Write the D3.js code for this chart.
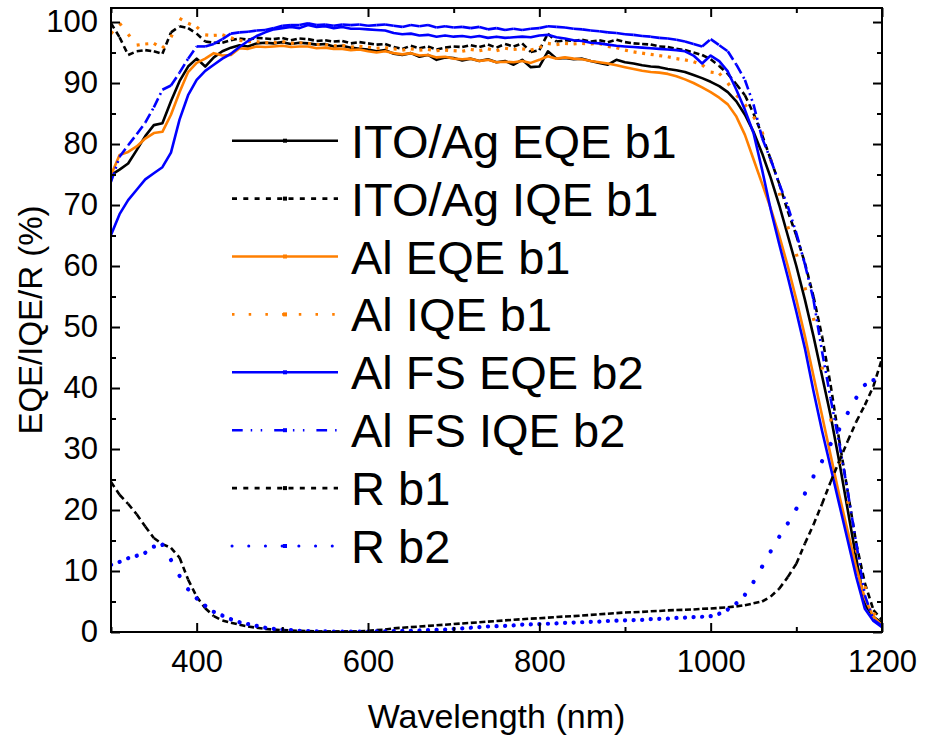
<!DOCTYPE html>
<html>
<head>
<meta charset="utf-8">
<script src="https://cdn.jsdelivr.net/npm/d3@7"></script>
<style>
  body { margin: 0; background: #fff; }
  svg { display: block; font-family: "Liberation Sans", Arial, sans-serif; }
</style>
</head>
<body>
<div id="chart"></div>
<script>
// wavelength grid, 300..1200 nm every 10 nm
const wavelength = d3.range(300, 1201, 10);

const itoEqeB1 = [74.9, 75.8, 76.8, 79.0, 81.3, 83.1, 83.4, 87.0, 90.3, 92.7,
  94.0, 92.7, 94.2, 95.2, 95.8, 96.2, 96.0, 96.5, 96.6, 96.5,
  96.7, 96.4, 96.6, 96.5, 96.3, 96.4, 96.0, 96.1, 95.8, 95.6,
  95.5, 95.2, 95.4, 94.8, 94.6, 94.9, 94.3, 94.6, 93.8, 94.2,
  94.1, 93.7, 94.0, 93.6, 93.9, 93.4, 93.6, 93.0, 93.8, 92.6,
  92.7, 95.2, 94.0, 94.1, 93.9, 94.0, 93.6, 93.3, 93.0, 93.8,
  93.4, 93.2, 92.9, 92.7, 92.6, 92.3, 92.1, 91.8, 91.3, 90.8,
  90.2, 89.5, 88.5, 87.0, 84.8, 82.0, 78.5, 74.5, 70.0, 65.0,
  60.0, 54.5, 48.5, 42.0, 35.5, 28.0, 20.0, 12.0, 4.5, 2.5, 1.5];

const itoIqeB1 = [99.8, 97.5, 94.6, 95.2, 95.4, 95.2, 94.8, 98.3, 99.3, 99.0,
  98.1, 96.8, 96.6, 96.6, 97.0, 97.3, 97.1, 97.4, 97.3, 97.2,
  97.4, 97.0, 97.3, 97.2, 96.9, 97.0, 96.8, 96.9, 96.5, 96.7,
  96.5, 96.3, 96.4, 95.9, 95.6, 96.1, 95.7, 96.0, 95.5, 95.8,
  96.0, 95.9, 96.2, 95.9, 96.3, 95.8, 96.4, 96.0, 96.5, 95.1,
  95.4, 98.1, 96.8, 97.0, 96.9, 97.1, 96.8, 97.0, 96.7, 97.1,
  96.7, 96.5, 96.4, 96.3, 96.0, 95.9, 95.6, 95.4, 95.0, 94.6,
  93.9, 92.8, 91.5, 89.8, 88.0, 85.0, 81.5, 77.5, 73.5, 69.0,
  65.0, 60.5, 55.0, 48.5, 40.5, 31.5, 23.0, 14.5, 8.0, 3.6, 2.0];

const alEqeB1 = [74.9, 78.2, 78.7, 79.6, 80.9, 81.8, 82.0, 84.8, 88.5, 91.8,
  93.3, 94.0, 94.9, 94.5, 94.6, 95.7, 95.6, 96.0, 95.9, 96.0,
  96.1, 95.9, 96.0, 96.0, 95.7, 95.8, 95.6, 95.6, 95.4, 95.5,
  95.2, 95.0, 95.2, 94.9, 94.7, 94.9, 94.5, 94.6, 94.2, 94.3,
  94.0, 93.9, 94.0, 93.6, 93.8, 93.4, 93.5, 93.4, 93.6, 93.3,
  93.8, 94.4, 94.0, 94.2, 94.0, 93.9, 93.6, 93.4, 93.2, 92.9,
  92.6, 92.3, 92.0, 91.8, 91.7, 91.5, 91.1, 90.6, 90.0, 89.3,
  88.5, 87.6, 86.5, 84.5, 81.5, 77.5, 73.5, 69.5, 65.0, 60.0,
  54.5, 48.5, 42.0, 35.5, 29.0, 22.5, 16.5, 10.5, 5.5, 2.5, 1.1];

const alIqeB1 = [98.1, 99.8, 98.0, 96.2, 96.4, 96.5, 95.7, 97.5, 100.6, 99.8,
  99.2, 97.9, 97.8, 97.9, 97.4, 97.0, 96.8, 96.8, 96.6, 96.6,
  96.8, 96.5, 96.6, 96.5, 96.3, 96.3, 96.1, 96.2, 95.9, 96.0,
  95.9, 95.7, 95.8, 95.6, 95.4, 95.6, 95.4, 95.5, 95.3, 95.4,
  95.3, 95.2, 95.5, 95.3, 95.6, 95.3, 95.7, 95.5, 95.6, 95.4,
  95.8, 96.5, 96.3, 96.5, 96.4, 96.5, 96.4, 96.5, 96.0, 95.8,
  95.4, 95.1, 94.9, 94.7, 94.5, 94.3, 94.0, 93.8, 93.5, 93.0,
  91.8, 91.6, 90.0, 88.0, 86.5, 84.5, 82.0, 77.5, 72.0, 66.5,
  62.0, 56.5, 51.5, 43.5, 35.0, 28.0, 21.5, 13.5, 7.5, 3.1, 1.8];

const alFsEqeB2 = [65.1, 68.5, 70.8, 72.5, 74.2, 75.2, 76.2, 78.6, 84.0, 88.0,
  90.5, 92.0, 93.0, 94.0, 94.8, 95.9, 96.9, 97.7, 98.3, 98.8,
  99.0, 99.2, 99.0, 99.5, 99.2, 99.3, 99.0, 99.2, 98.9, 98.9,
  98.8, 98.7, 98.6, 98.2, 98.0, 98.1, 97.8, 97.9, 97.6, 97.8,
  97.6, 97.7, 97.5, 97.7, 97.4, 97.6, 97.4, 97.5, 97.6, 97.5,
  97.8, 97.9, 97.5, 97.3, 97.0, 96.9, 96.6, 96.5, 96.3, 96.1,
  96.0, 95.9, 95.8, 95.7, 95.6, 95.5, 95.4, 95.2, 94.5, 93.2,
  94.5, 93.6, 91.9, 88.9, 85.6, 81.8, 75.8, 69.3, 63.6, 58.2,
  52.5, 46.5, 39.5, 33.0, 27.0, 21.0, 15.0, 9.0, 3.8, 1.8, 0.8];

const alFsIqeB2 = [73.8, 77.9, 79.8, 81.6, 83.5, 86.0, 88.9, 89.6, 91.7, 94.0,
  96.0, 96.0, 96.4, 97.2, 98.1, 98.3, 98.4, 98.6, 98.7, 99.0,
  99.4, 99.5, 99.5, 99.8, 99.5, 99.6, 99.4, 99.6, 99.5, 99.6,
  99.4, 99.5, 99.6, 99.4, 99.2, 99.5, 99.3, 99.5, 99.1, 99.3,
  99.1, 99.2, 99.0, 99.2, 98.8, 99.0, 98.7, 98.9, 98.7, 98.9,
  99.0, 99.3, 99.2, 99.1, 98.9, 98.8, 98.6, 98.5, 98.3, 98.2,
  98.0, 97.9, 97.7, 97.6, 97.4, 97.3, 97.1, 96.8, 96.4, 96.0,
  97.2, 96.2, 95.2, 93.0, 90.5, 86.5, 81.0, 77.5, 73.5, 69.8,
  65.4, 60.3, 54.5, 46.0, 38.3, 31.0, 23.0, 14.5, 6.0, 2.0, 1.0];

const rB1 = [24.6, 22.5, 21.0, 19.3, 17.3, 15.4, 14.4, 13.8, 12.2, 8.6,
  5.8, 3.9, 2.6, 1.9, 1.5, 1.2, 0.9, 0.7, 0.5, 0.4,
  0.3, 0.25, 0.2, 0.15, 0.1, 0.1, 0.1, 0.1, 0.1, 0.1,
  0.2, 0.3, 0.4, 0.6, 0.7, 0.8, 0.9, 1.0, 1.1, 1.2,
  1.3, 1.4, 1.5, 1.6, 1.7, 1.8, 1.9, 2.0, 2.1, 2.2,
  2.25, 2.35, 2.45, 2.55, 2.6, 2.7, 2.8, 2.9, 3.0, 3.1,
  3.2, 3.25, 3.3, 3.4, 3.45, 3.55, 3.6, 3.65, 3.7, 3.8,
  3.85, 3.95, 4.05, 4.2, 4.4, 4.7, 5.0, 5.8, 7.1, 9.0,
  11.2, 14.5, 17.6, 21.0, 24.6, 28.0, 31.3, 34.5, 37.2, 40.3, 44.8];

const rB2 = [11.0, 11.5, 12.1, 12.5, 13.0, 14.0, 14.3, 11.8, 9.2, 7.0,
  5.5, 4.3, 3.3, 2.7, 2.1, 1.6, 1.3, 1.0, 0.7, 0.5,
  0.4, 0.3, 0.2, 0.15, 0.1, 0.1, 0.05, 0.05, 0.05, 0.05,
  0.05, 0.1, 0.1, 0.15, 0.2, 0.2, 0.25, 0.3, 0.35, 0.4,
  0.5, 0.6, 0.7, 0.8, 0.9, 0.95, 1.0, 1.1, 1.2, 1.25,
  1.3, 1.35, 1.4, 1.5, 1.55, 1.6, 1.65, 1.7, 1.8, 1.85,
  1.9, 1.95, 2.0, 2.1, 2.15, 2.2, 2.3, 2.35, 2.45, 2.5,
  2.6, 3.0, 3.7, 4.7, 6.1, 8.2, 10.7, 13.2, 15.6, 17.8,
  20.2, 22.7, 25.5, 28.0, 30.8, 33.2, 35.9, 38.4, 40.5, 41.3, 41.5];

const seriesNames = ["ITO/Ag EQE b1", "ITO/Ag IQE b1", "Al EQE b1", "Al IQE b1",
  "Al FS EQE b2", "Al FS IQE b2", "R b1", "R b2"];
const seriesValues = [itoEqeB1, itoIqeB1, alEqeB1, alIqeB1, alFsEqeB2, alFsIqeB2, rB1, rB2];

const xTickLabels = [400, 600, 800, 1000, 1200];
const yTickLabels = [0, 10, 20, 30, 40, 50, 60, 70, 80, 90, 100];

// line styles (Origin-like: dash pattern restarts at each data segment)
const styles = [
  { color: "#000000", dash: null, width: 2.6, cap: "butt" },
  { color: "#000000", dash: "6,4", width: 2.6, cap: "butt" },
  { color: "#ff7f00", dash: null, width: 2.6, cap: "butt" },
  { color: "#ff7f00", dash: "3,100", width: 3.2, cap: "butt" },
  { color: "#0000ff", dash: null, width: 2.6, cap: "butt" },
  { color: "#0000ff", dash: "10,4,2,4,2,4", width: 2.6, cap: "butt" },
  { color: "#000000", dash: "6,4", width: 2.6, cap: "butt" },
  { color: "#0000ff", dash: "0.1,100", width: 4.2, cap: "round" }
];

const W = 926, H = 744;
const plot = { left: 111, right: 882, top: 8, bottom: 632 };
const fontTick = 31, fontTitle = 34, fontLegend = 47;

const svg = d3.select("#chart").append("svg")
  .attr("width", W).attr("height", H);

const x = d3.scaleLinear().domain([300, 1200]).range([plot.left, plot.right]);
const y = d3.scaleLinear().domain([0, 102.3]).range([plot.bottom, plot.top]);

svg.append("defs").append("clipPath").attr("id", "clip")
  .append("rect")
  .attr("x", plot.left).attr("y", plot.top)
  .attr("width", plot.right - plot.left).attr("height", plot.bottom - plot.top);

// series
const line = d3.line().x(d => x(d[0])).y(d => y(d[1]));
const lines = svg.append("g").attr("clip-path", "url(#clip)");
seriesValues.forEach((vals, i) => {
  const st = styles[i];
  const pts = wavelength.map((w, j) => [w, vals[j]]);
  const g = lines.append("g")
    .attr("fill", "none")
    .attr("stroke", st.color)
    .attr("stroke-width", st.width)
    .attr("stroke-linecap", st.cap)
    .attr("stroke-linejoin", "round");
  if (st.dash) {
    g.selectAll("path").data(d3.pairs(pts)).join("path")
      .attr("d", line)
      .attr("stroke-dasharray", st.dash);
  } else {
    g.append("path").attr("d", line(pts));
  }
});

// axes, ticks inward on all four sides
const xMinor = d3.range(300, 1201, 100).filter(v => !xTickLabels.includes(v));
const yMinor = d3.range(5, 101, 10);

function addAxis(axisFn, scale, transform, major, minor, labels) {
  const g = svg.append("g").attr("transform", transform);
  g.call(axisFn(scale).tickValues(major).tickSize(-9).tickPadding(labels ? labels : 0)
    .tickFormat(labels ? d3.format("d") : ""));
  g.append("g").call(axisFn(scale).tickValues(minor).tickSize(-5).tickFormat(""))
    .select(".domain").remove();
  g.selectAll(".domain").remove();
  g.selectAll("line").attr("stroke", "#000").attr("stroke-width", 2);
  g.selectAll("text").attr("font-size", fontTick).attr("fill", "#000")
    .attr("font-family", "'Liberation Sans', Arial, sans-serif");
  return g;
}

addAxis(d3.axisBottom, x, `translate(0,${plot.bottom})`, xTickLabels, xMinor, 18);
addAxis(d3.axisTop, x, `translate(0,${plot.top})`, xTickLabels, xMinor, 0);
addAxis(d3.axisLeft, y, `translate(${plot.left},0)`, yTickLabels, yMinor, 13);
addAxis(d3.axisRight, y, `translate(${plot.right},0)`, yTickLabels, yMinor, 0);

svg.append("rect")
  .attr("x", plot.left).attr("y", plot.top)
  .attr("width", plot.right - plot.left).attr("height", plot.bottom - plot.top)
  .attr("fill", "none").attr("stroke", "#000").attr("stroke-width", 2);

// axis titles
svg.append("text")
  .attr("x", (plot.left + plot.right) / 2).attr("y", 728)
  .attr("text-anchor", "middle").attr("font-size", fontTitle)
  .text("Wavelength (nm)");
svg.append("text")
  .attr("transform", `translate(42,${(plot.top + plot.bottom) / 2}) rotate(-90)`)
  .attr("text-anchor", "middle").attr("font-size", 33)
  .text("EQE/IQE/R (%)");

// legend
const legend = svg.append("g").attr("transform", "translate(232,140.7)");
seriesNames.forEach((name, i) => {
  const st = styles[i];
  const row = legend.append("g").attr("transform", `translate(0,${i * 57.9})`);
  const ln = row.append("line")
    .attr("x1", 0).attr("x2", 106).attr("y1", 0).attr("y2", 0)
    .attr("stroke", st.color).attr("stroke-width", st.width)
    .attr("stroke-linecap", st.cap);
  if (st.dash === "6,4") ln.attr("stroke-dasharray", "5,6.3");
  else if (st.dash === "3,100") ln.attr("stroke-dasharray", "2.5,14.2").attr("stroke-width", 2.6);
  else if (st.dash === "0.1,100") ln.attr("stroke-dasharray", "0.1,16.6").attr("stroke-width", 3);
  else if (st.dash) ln.attr("stroke-dasharray", "10.7,8,1.5,8.5,1.5,12");
  row.append("rect")
    .attr("x", 51).attr("y", -2).attr("width", 4).attr("height", 4)
    .attr("fill", st.color);
  row.append("text")
    .attr("x", 119).attr("y", 17)
    .attr("font-size", fontLegend)
    .text(name);
});
</script>
</body>
</html>
